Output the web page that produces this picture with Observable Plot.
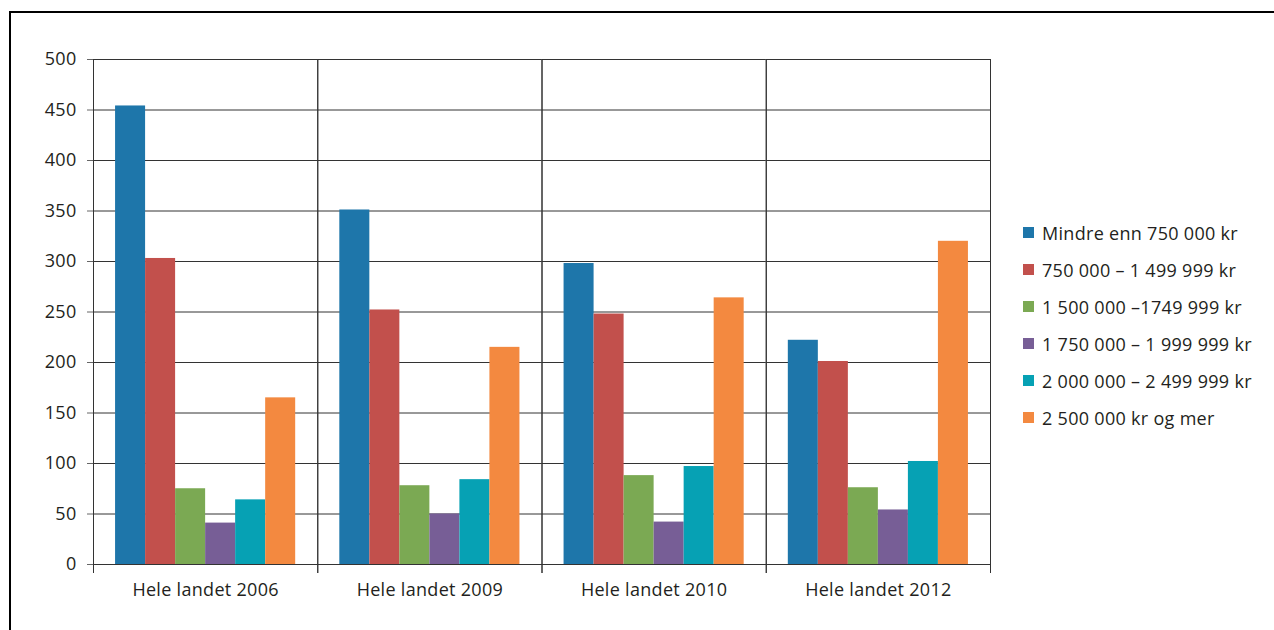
<!DOCTYPE html>
<html>
<head>
<meta charset="utf-8">
<script src="https://cdn.jsdelivr.net/npm/d3@7"></script>
<script src="https://cdn.jsdelivr.net/npm/@observablehq/plot@0.6"></script>
<style>
  html, body { margin: 0; padding: 0; background: #fff; }
  #wrap { position: relative; width: 1274px; height: 630px; overflow: hidden; font-family: "Open Sans", sans-serif; color: #231f20; }
  #border { position: absolute; left: 9px; top: 11px; right: 0; bottom: 0; border-top: 2px solid #000; border-left: 2px solid #000; pointer-events: none; }
  #legend { position: absolute; left: 1023px; top: 214px; font-size: 18px; letter-spacing: 0.3px; }
  #legend .row { display: flex; align-items: center; height: 37px; white-space: nowrap; }
  #legend .sw { width: 11px; height: 11px; margin-right: 8px; flex: none; }
  svg { display: block; }
  svg text { letter-spacing: 0.3px; }
</style>
</head>
<body>
<div id="wrap">
  <div id="chart"></div>
  <div id="legend"></div>
  <div id="border"></div>
</div>
<script>
// Categories (one facet per survey year) and income brackets (one bar each)
const groups = ["Hele landet 2006", "Hele landet 2009", "Hele landet 2010", "Hele landet 2012"];
const series = [
  "Mindre enn 750 000 kr",
  "750 000 – 1 499 999 kr",
  "1 500 000 –1749 999 kr",
  "1 750 000 – 1 999 999 kr",
  "2 000 000 – 2 499 999 kr",
  "2 500 000 kr og mer"
];
const colors = ["#1e76aa", "#c2504c", "#7ba953", "#775e96", "#06a1b4", "#f38940"];

// Values per year, in bracket order
const values2006 = [454, 303, 75, 41, 64, 165];
const values2009 = [351, 252, 78, 50, 84, 215];
const values2010 = [298, 248, 88, 42, 97, 264];
const values2012 = [222, 201, 76, 54, 102, 320];

const yTicks = [0, 50, 100, 150, 200, 250, 300, 350, 400, 450, 500];

const byGroup = [values2006, values2009, values2010, values2012];
const rows = groups.flatMap((g, i) => series.map((s, j) => ({group: g, series: s, value: byGroup[i][j]})));

const lineColor = "#333";

const chart = Plot.plot({
  width: 1274,
  height: 630,
  marginLeft: 93,
  marginRight: 284,
  marginTop: 59,
  marginBottom: 66,
  style: {fontFamily: "'Open Sans', sans-serif", fontSize: "18px", color: "#231f20", background: "transparent"},
  fx: {domain: groups, padding: 0, label: null, round: false},
  x: {domain: series, paddingInner: 0, paddingOuter: 0.735, round: false, axis: null},
  y: {domain: [0, 500], label: null},
  color: {domain: series, range: colors},
  marks: [
    Plot.gridY(yTicks, {stroke: lineColor, strokeOpacity: 1}),
    Plot.barY(rows, {fx: "group", x: "series", y: "value", fill: "series"}),
    Plot.ruleY([0], {stroke: lineColor}),
    Plot.frame({anchor: "left", insetBottom: -8, stroke: lineColor}),
    Plot.frame({anchor: "right", insetBottom: -8, stroke: lineColor}),
    Plot.axisY(yTicks, {tickSize: 6, tickPadding: 11, label: null, stroke: "#666", fill: "#231f20"}),
    Plot.axisFx({anchor: "bottom", tickSize: 0, tickPadding: 19, label: null, fill: "#231f20"})
  ]
});
document.getElementById("chart").appendChild(chart);

// Legend to the right of the plot
const legend = d3.select("#legend");
series.forEach((s, i) => {
  const row = legend.append("div").attr("class", "row");
  row.append("div").attr("class", "sw").style("background", colors[i]);
  row.append("span").text(s);
});
</script>
</body>
</html>
